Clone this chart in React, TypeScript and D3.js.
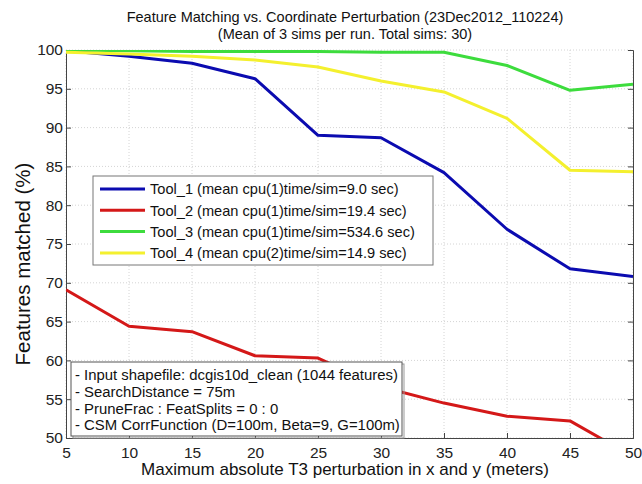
import React, { useEffect, useRef } from "react";
import * as d3 from "d3";

const perturbation = [5, 10, 15, 20, 25, 30, 35, 40, 45, 50];
const tool1 = [99.9, 99.2, 98.3, 96.3, 89.0, 88.7, 84.2, 76.9, 71.8, 70.8];
const tool2 = [69.1, 64.4, 63.7, 60.6, 60.3, 56.6, 54.5, 52.8, 52.2, 47.6];
const tool3 = [100, 99.9, 99.8, 99.8, 99.8, 99.7, 99.7, 98.0, 94.8, 95.6];
const tool4 = [99.7, 99.5, 99.2, 98.7, 97.8, 96.0, 94.6, 91.2, 84.5, 84.3];

const seriesNames = [
  "Tool_1 (mean cpu(1)time/sim=9.0 sec)",
  "Tool_2 (mean cpu(1)time/sim=19.4 sec)",
  "Tool_3 (mean cpu(1)time/sim=534.6 sec)",
  "Tool_4 (mean cpu(2)time/sim=14.9 sec)",
];
const seriesColors = ["#0b0bb0", "#d41818", "#3ddc3d", "#f4f02e"];
const yTicks = [50, 55, 60, 65, 70, 75, 80, 85, 90, 95, 100];
const notes = [
  "- Input shapefile: dcgis10d_clean (1044 features)",
  "- SearchDistance = 75m",
  "- PruneFrac : FeatSplits = 0 : 0",
  "- CSM CorrFunction (D=100m, Beta=9, G=100m)",
];

const createChart = (node: SVGSVGElement) => {
  const width = 642,
    height = 484;
  const margin = { top: 50, right: 9, bottom: 46, left: 66 };
  const w = width - margin.left - margin.right;
  const h = height - margin.top - margin.bottom;
  const font = "Arial, 'Liberation Sans', sans-serif";

  const svg = d3.select(node);
  svg.selectAll("*").remove();

  const x = d3.scaleLinear().domain([5, 50]).range([0, w]);
  const y = d3.scaleLinear().domain([50, 100]).range([h, 0]);

  svg.append("rect").attr("width", width).attr("height", height).attr("fill", "#fff");

  const g = svg.append("g").attr("transform", `translate(${margin.left}, ${margin.top})`);

  svg
    .append("defs")
    .append("clipPath")
    .attr("id", "plotclip")
    .append("rect")
    .attr("width", w)
    .attr("height", h);

  // grid
  g.selectAll(".gx")
    .data(perturbation)
    .enter()
    .append("line")
    .attr("x1", (d) => x(d))
    .attr("x2", (d) => x(d))
    .attr("y1", 0)
    .attr("y2", h)
    .attr("stroke", "#d4d4d4")
    .attr("stroke-dasharray", "1,2");
  g.selectAll(".gy")
    .data(yTicks)
    .enter()
    .append("line")
    .attr("x1", 0)
    .attr("x2", w)
    .attr("y1", (d) => y(d))
    .attr("y2", (d) => y(d))
    .attr("stroke", "#d4d4d4")
    .attr("stroke-dasharray", "1,2");

  // axes
  const xAxis = g
    .append("g")
    .attr("transform", `translate(0, ${h})`)
    .call(d3.axisBottom(x).tickValues(perturbation).tickSize(-5).tickPadding(9).tickFormat(d3.format("d")));
  const yAxis = g
    .append("g")
    .call(d3.axisLeft(y).tickValues(yTicks).tickSize(-5).tickPadding(3).tickFormat(d3.format("d")));
  g.append("g")
    .attr("transform", `translate(${w}, 0)`)
    .call(d3.axisRight(y).tickValues(yTicks).tickSize(-5).tickFormat(() => ""));
  for (const ax of [xAxis, yAxis]) {
    ax.selectAll("text").attr("font-family", font).attr("font-size", 15.5).attr("fill", "#222");
  }
  g.selectAll(".domain").attr("stroke", "#444");
  g.selectAll(".tick line").attr("stroke", "#444");

  // lines
  const all = [tool1, tool2, tool3, tool4];
  const line = d3
    .line<number>()
    .x((_, i) => x(perturbation[i]))
    .y((d) => y(d));
  const lines = g.append("g").attr("clip-path", "url(#plotclip)");
  all.forEach((vals, i) => {
    lines
      .append("path")
      .datum(vals)
      .attr("d", line)
      .attr("fill", "none")
      .attr("stroke", seriesColors[i])
      .attr("stroke-width", 3)
      .attr("stroke-linejoin", "round");
  });

  // legend
  const lg = svg.append("g").attr("transform", "translate(93, 176)");
  lg.append("rect")
    .attr("width", 340)
    .attr("height", 89)
    .attr("fill", "#fff")
    .attr("stroke", "#777");
  seriesNames.forEach((name, i) => {
    const yy = 13 + i * 21.3;
    lg.append("line")
      .attr("x1", 7)
      .attr("x2", 52)
      .attr("y1", yy)
      .attr("y2", yy)
      .attr("stroke", seriesColors[i])
      .attr("stroke-width", 3);
    lg.append("text")
      .attr("x", 57)
      .attr("y", yy)
      .attr("dy", "0.36em")
      .attr("font-family", font)
      .attr("font-size", 14.6)
      .attr("fill", "#111")
      .text(name);
  });

  // notes box
  const nb = svg.append("g").attr("transform", "translate(71, 362)");
  nb.append("rect")
    .attr("x", 2)
    .attr("y", 2)
    .attr("width", 331)
    .attr("height", 74)
    .attr("fill", "none")
    .attr("stroke", "#999");
  nb.append("rect")
    .attr("width", 331)
    .attr("height", 74)
    .attr("fill", "#fff")
    .attr("stroke", "#555");
  notes.forEach((t, i) => {
    nb.append("text")
      .attr("x", 4)
      .attr("y", 13 + i * 16.7)
      .attr("dy", "0.36em")
      .attr("font-family", font)
      .attr("font-size", 14.9)
      .attr("fill", "#111")
      .text(t);
  });

  // titles
  const title = svg
    .append("text")
    .attr("text-anchor", "middle")
    .attr("font-family", font)
    .attr("font-size", 14.5)
    .attr("fill", "#111");
  title.append("tspan").attr("x", 345).attr("y", 22).text("Feature Matching vs. Coordinate Perturbation (23Dec2012_110224)");
  title.append("tspan").attr("x", 345).attr("y", 39).text("(Mean of 3 sims per run. Total sims: 30)");

  svg
    .append("text")
    .attr("x", 345)
    .attr("y", 475)
    .attr("text-anchor", "middle")
    .attr("font-family", font)
    .attr("font-size", 17)
    .attr("fill", "#111")
    .text("Maximum absolute T3 perturbation in x and y (meters)");

  svg
    .append("text")
    .attr("transform", `translate(30, 264) rotate(-90)`)
    .attr("text-anchor", "middle")
    .attr("font-family", font)
    .attr("font-size", 20.5)
    .attr("fill", "#111")
    .text("Features matched (%)");
};

export default function App() {
  const ref = useRef<SVGSVGElement>(null);
  useEffect(() => {
    document.body.style.margin = "0";
    document.body.style.overflow = "hidden";
    if (ref.current) createChart(ref.current);
  }, []);
  return (
    <div style={{ position: "fixed", left: 0, top: 0 }}>
      <svg ref={ref} width={642} height={484} style={{ display: "block" }} />
    </div>
  );
}
